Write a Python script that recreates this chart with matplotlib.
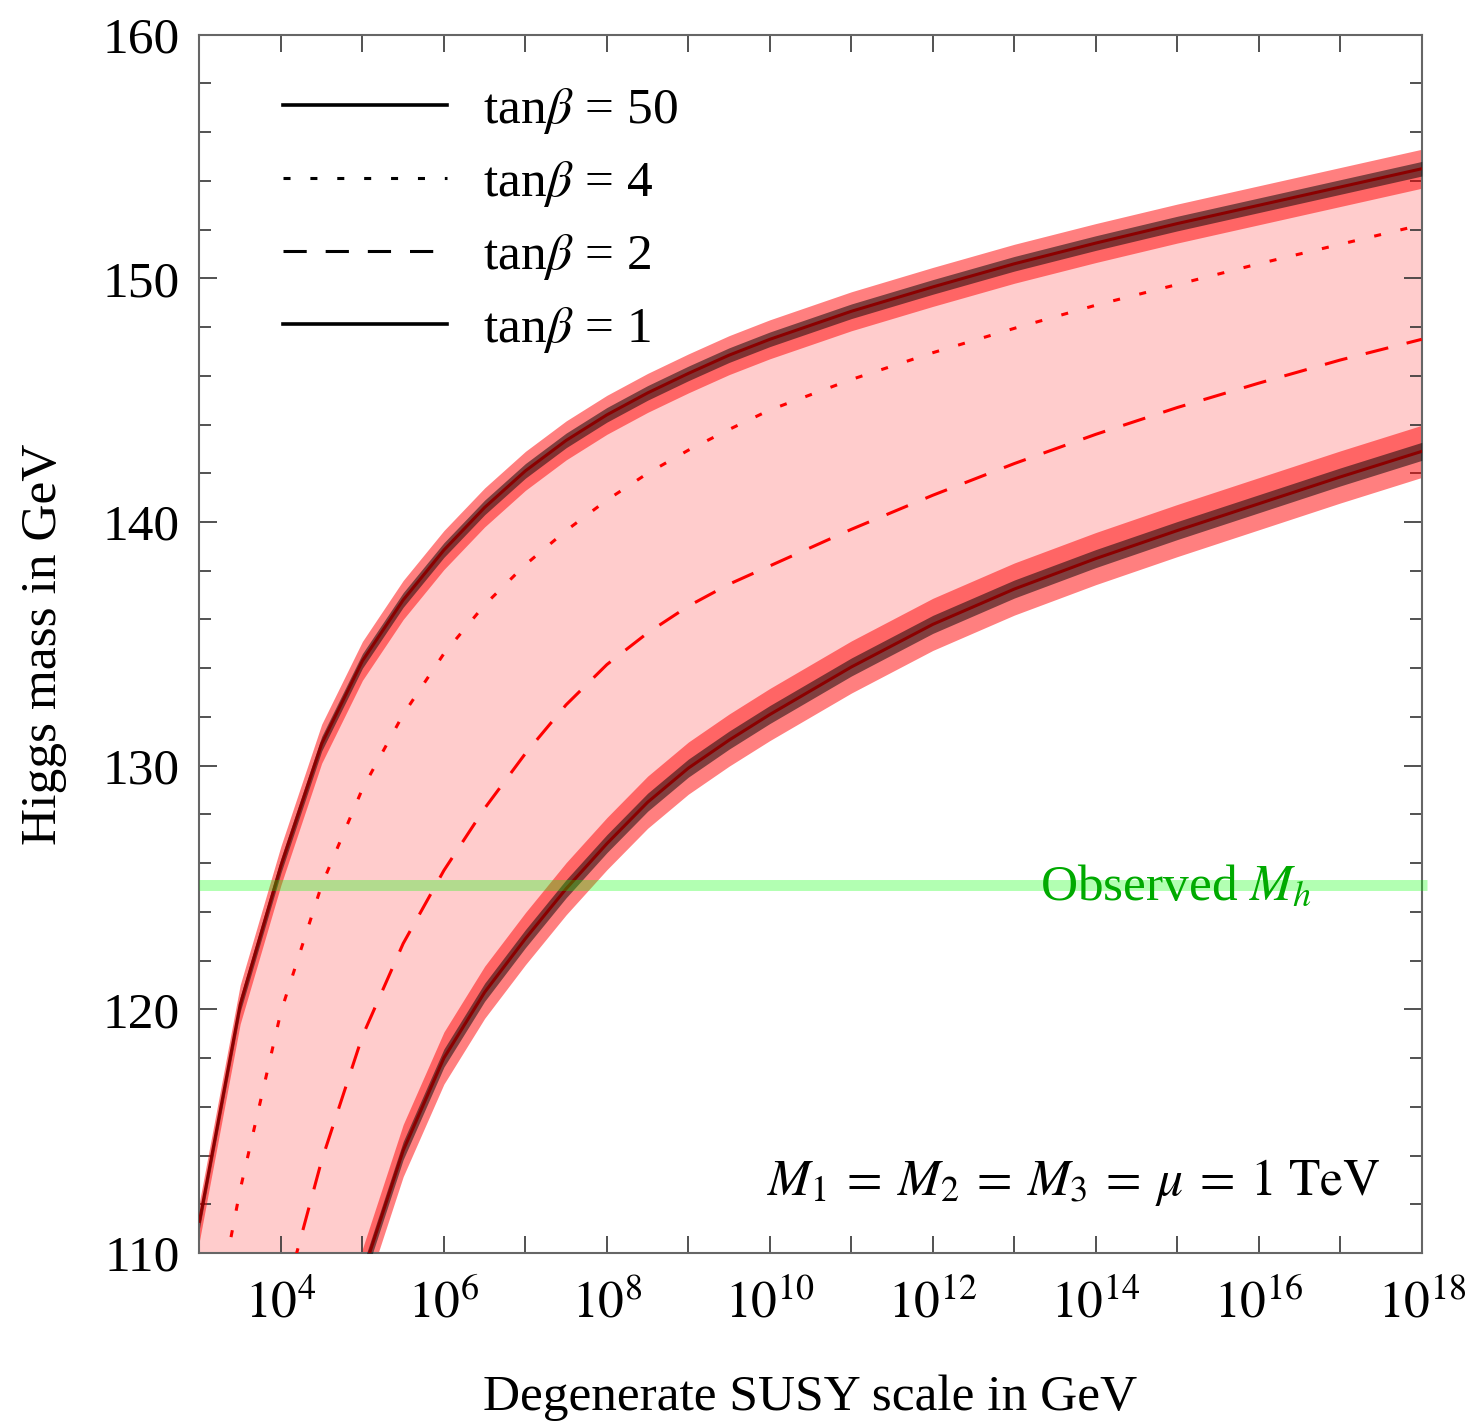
import numpy as np
import matplotlib
matplotlib.use("Agg")
import matplotlib.pyplot as plt
from matplotlib.lines import Line2D

plt.rcParams['font.family'] = ['Liberation Serif', 'DejaVu Serif']
plt.rcParams['mathtext.fontset'] = 'stix'

# log10 of the degenerate SUSY scale (GeV) and Higgs mass (GeV)
exp_tb50 = [3, 3.5, 4, 4.5, 5, 5.5, 6, 6.5, 7, 7.5, 8, 8.5, 9, 9.5, 10,
            11, 12, 13, 14, 15, 16, 17, 18]
mh_tb50 = [111.3, 120.2, 125.9, 130.9, 134.3, 136.8, 138.85, 140.6, 142.1, 143.35,
           144.4, 145.3, 146.1, 146.85, 147.5, 148.65, 149.65, 150.6, 151.45, 152.25,
           153.0, 153.75, 154.5]

exp_tb4 = [3.2, 3.5, 4, 4.5, 5, 5.5, 6, 6.5, 7, 7.5, 8, 8.5, 9, 9.5, 10,
           11, 12, 13, 14, 15, 16, 17, 18]
mh_tb4 = [107.4, 112.6, 119.9, 125.1, 129.05, 132.1, 134.6, 136.6, 138.25, 139.65,
          140.9, 142.0, 142.95, 143.8, 144.6, 145.85, 146.95, 147.95, 148.9, 149.75,
          150.6, 151.4, 152.2]

exp_tb2 = [4, 4.5, 5, 5.5, 6, 6.5, 7, 7.5, 8, 8.5, 9, 9.5, 10,
           11, 12, 13, 14, 15, 16, 17, 18]
mh_tb2 = [107.6, 113.8, 118.9, 122.7, 125.7, 128.25, 130.5, 132.5, 134.15, 135.45,
          136.55, 137.45, 138.2, 139.7, 141.1, 142.4, 143.6, 144.7, 145.7, 146.65, 147.5]

exp_tb1 = [5, 5.5, 6, 6.5, 7, 7.5, 8, 8.5, 9, 9.5, 10,
           11, 12, 13, 14, 15, 16, 17, 18]
mh_tb1 = [109.1, 114.2, 118.0, 120.7, 122.9, 124.95, 126.8, 128.5, 129.9, 131.05,
          132.1, 134.05, 135.8, 137.25, 138.5, 139.65, 140.75, 141.85, 142.9]

# uncertainty half-widths (GeV): outer (red) and inner (dark)
err_tb50 = [0.8, 0.3]
err_tb1 = [1.07, 0.37]

mh_observed = 125.1
legend_labels = [r"tan$\beta$ = 50", r"tan$\beta$ = 4", r"tan$\beta$ = 2", r"tan$\beta$ = 1"]

q50 = 10.0 ** np.array(exp_tb50)
q4 = 10.0 ** np.array(exp_tb4)
q2 = 10.0 ** np.array(exp_tb2)
q1 = 10.0 ** np.array(exp_tb1)
m50 = np.array(mh_tb50)
m1 = np.array(mh_tb1)

FS = 37

fig = plt.figure(figsize=(14.73, 14.24), dpi=100)
ax = fig.add_axes([0.1354, 0.1201, 0.8298, 0.8555])
ax.set_xscale('log')

# pink region between tan(beta)=1 and tan(beta)=50
poly_x = np.concatenate([q50, q1[::-1], [q50[0]]])
poly_y = np.concatenate([m50, m1[::-1], [m1[0]]])
ax.fill(poly_x, poly_y, color='#ffcccc', lw=0, zorder=1)

for q, m, err in [(q50, m50, err_tb50), (q1, m1, err_tb1)]:
    ax.fill_between(q, m - err[0], m + err[0], color='red', alpha=0.5, lw=0, zorder=2)
    ax.fill_between(q, m - err[1], m + err[1], color='black', alpha=0.5, lw=0, zorder=3)
    ax.plot(q, m, color='#8b0000', lw=2.2, zorder=4)

ax.plot(q4, mh_tb4, color='red', lw=2.2, dashes=(2.3, 6.5), zorder=4)
ax.plot(q2, mh_tb2, color='red', lw=2.2, dashes=(7.6, 6.2), zorder=4)

# observed Higgs mass
ax.plot([1e3, 10 ** 18.07], [mh_observed, mh_observed], color='lime', alpha=0.3,
        lw=7.9, solid_capstyle='butt', clip_on=False, zorder=5)
ax.text(10 ** 13.32, 124.5, r"Observed $M_h$", color='#00aa00', fontsize=FS,
        ha='left', va='baseline', zorder=6)

ax.text(0.966, 0.0476, r"$M_1\:=\:M_2\:=\:M_3\:=\:\mu\:=\:1\ \mathrm{TeV}$",
        transform=ax.transAxes, fontsize=FS, ha='right', va='baseline')

handles = [Line2D([], [], color='k', lw=2.6),
           Line2D([], [], color='k', lw=2.2, dashes=(2.3, 6.5)),
           Line2D([], [], color='k', lw=2.2, dashes=(7.6, 6.2)),
           Line2D([], [], color='k', lw=2.6)]
ax.legend(handles, legend_labels, loc='upper left', bbox_to_anchor=(0.068, 0.958),
          frameon=False, fontsize=FS, handlelength=3.2, handletextpad=0.7,
          labelspacing=0.45, borderpad=0, borderaxespad=0)

ax.set_xlim(1e3, 1e18)
ax.set_ylim(110, 160)
ax.set_xticks(10.0 ** np.arange(3, 19))
ax.set_xticklabels(['' if e % 2 else r"$10^{%d}$" % e for e in range(3, 19)])
ax.xaxis.set_minor_locator(matplotlib.ticker.NullLocator())
ax.set_yticks(np.arange(110, 161, 10))
ax.set_yticks(np.arange(110, 161, 2), minor=True)

ax.tick_params(which='both', direction='in', top=True, right=True, labelsize=FS,
               width=1.2, color='#333333')
ax.tick_params(axis='x', which='major', length=12.5, pad=20)
ax.tick_params(axis='y', which='major', length=13, pad=14)
ax.tick_params(axis='y', which='minor', length=8.5)
for s in ax.spines.values():
    s.set_color('#666666')
    s.set_linewidth(1.5)

ax.set_xlabel("Degenerate SUSY scale in GeV", fontsize=FS, labelpad=33)
ax.set_ylabel("Higgs mass in GeV", fontsize=FS, labelpad=26)

fig.savefig("out.png", dpi=100)
